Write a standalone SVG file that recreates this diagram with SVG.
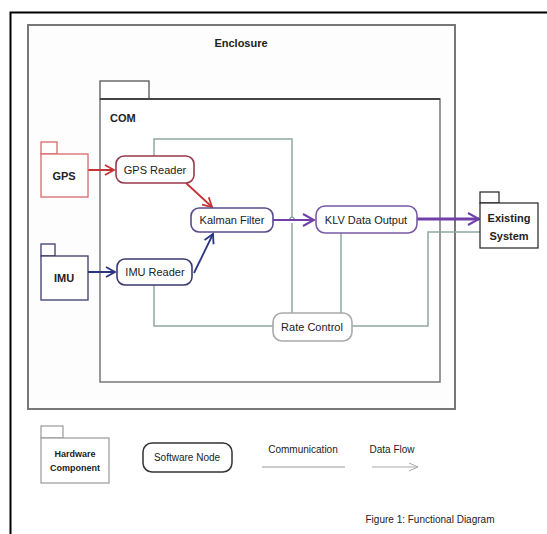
<svg xmlns="http://www.w3.org/2000/svg" width="547" height="534" viewBox="0 0 547 534">
<defs>
<style>
text{font-family:"Liberation Sans",Arial,sans-serif;font-size:11px;fill:#222;text-anchor:middle}
.b{font-weight:bold}
.sw{fill:#fff;stroke-width:1.6}
.comm{fill:none;stroke:#8fa8a0;stroke-width:1.5}
</style>
<marker id="aR" markerWidth="12" markerHeight="12" refX="10" refY="6" orient="auto" markerUnits="userSpaceOnUse"><path d="M1,1 L10,6 L1,11" fill="none" stroke="#c83232" stroke-width="1.8"/></marker>
<marker id="aB" markerWidth="12" markerHeight="12" refX="10" refY="6" orient="auto" markerUnits="userSpaceOnUse"><path d="M1,1 L10,6 L1,11" fill="none" stroke="#2a3580" stroke-width="1.8"/></marker>
<marker id="aP" markerWidth="14" markerHeight="14" refX="12" refY="7" orient="auto" markerUnits="userSpaceOnUse"><path d="M1,1 L12,7 L1,13" fill="none" stroke="#7040a8" stroke-width="2"/></marker>
<marker id="aG" markerWidth="12" markerHeight="12" refX="10" refY="6" orient="auto" markerUnits="userSpaceOnUse"><path d="M1,2 L10,6 L1,10" fill="none" stroke="#aaa" stroke-width="1"/></marker>
</defs>
<rect width="547" height="534" fill="#fff"/>
<path d="M10.5,534 V12.5 H547" fill="none" stroke="#000" stroke-width="2"/>
<g id="enclosure">
<rect x="28" y="25" width="427" height="384" fill="#fdfdfd" stroke="#777" stroke-width="2"/>
<text x="241" y="47" class="b">Enclosure</text>
</g>
<g id="com">
<rect x="100" y="81" width="49" height="18" fill="#fff" stroke="#555" stroke-width="1.3"/>
<rect x="100" y="99" width="340" height="283" fill="#fff" stroke="#777" stroke-width="1.5"/>
<line x1="100" y1="99" x2="440" y2="99" stroke="#444" stroke-width="2.2"/>
<text x="110" y="122" class="b" style="text-anchor:start">COM</text>
</g>
<g id="connectors">
<path class="comm" d="M154,156 V139 H292 V217 M292,223 V313"/>
<path d="M289,220 Q292,214 295,220" fill="none" stroke="#8fa8a0" stroke-width="1.5"/>
<path class="comm" d="M154,285 V326 H273"/>
<path class="comm" d="M341,233 V313"/>
<path class="comm" d="M352,326 H428 V232 H480"/>
<line x1="88" y1="170" x2="114" y2="170" stroke="#c83232" stroke-width="2" marker-end="url(#aR)"/>
<line x1="88" y1="272" x2="115" y2="272" stroke="#2a3580" stroke-width="2" marker-end="url(#aB)"/>
<line x1="186" y1="183" x2="212" y2="207" stroke="#c83232" stroke-width="1.8" marker-end="url(#aR)"/>
<line x1="194" y1="273" x2="213" y2="234" stroke="#2a3580" stroke-width="1.8" marker-end="url(#aB)"/>
<line x1="273" y1="220" x2="314" y2="220" stroke="#7040a8" stroke-width="2" marker-end="url(#aP)"/>
<line x1="417" y1="219" x2="479" y2="219" stroke="#7040a8" stroke-width="3.2" marker-end="url(#aP)"/>
</g>
<g id="gps">
<rect x="41" y="142" width="16" height="12" fill="#fff" stroke="#d86a6a" stroke-width="1.3"/>
<rect x="41" y="154" width="47" height="43" fill="#fff" stroke="#d86a6a" stroke-width="1.3"/>
<text x="64" y="180" class="b">GPS</text>
</g>
<g id="imu">
<rect x="41" y="244" width="14" height="12" fill="#fff" stroke="#3a3a6a" stroke-width="1.3"/>
<rect x="41" y="256" width="47" height="44" fill="#fff" stroke="#3a3a6a" stroke-width="1.3"/>
<text x="64" y="282" class="b">IMU</text>
</g>
<g id="gps-reader">
<rect x="116" y="156" width="78" height="27" rx="8" class="sw" stroke="#9a3a4a"/>
<text x="155" y="174">GPS Reader</text>
</g>
<g id="imu-reader">
<rect x="117" y="259" width="75" height="26" rx="8" class="sw" stroke="#3a3a70"/>
<text x="155" y="276">IMU Reader</text>
</g>
<g id="kalman-filter">
<rect x="191" y="208" width="82" height="24" rx="8" class="sw" stroke="#5a4a90"/>
<text x="232" y="224">Kalman Filter</text>
</g>
<g id="klv-data-output">
<rect x="316" y="206" width="101" height="27" rx="9" class="sw" stroke="#7a5aa8"/>
<text x="366" y="224">KLV Data Output</text>
</g>
<g id="rate-control">
<rect x="273" y="313" width="79" height="28" rx="9" class="sw" stroke="#aaa" stroke-width="1.3"/>
<text x="312" y="331">Rate Control</text>
</g>
<g id="existing-system">
<rect x="480" y="192" width="19" height="11" fill="#fff" stroke="#222" stroke-width="1.2"/>
<rect x="480" y="203" width="58" height="45" fill="#fff" stroke="#222" stroke-width="1.2"/>
<text x="509" y="222" class="b">Existing</text>
<text x="509" y="240" class="b">System</text>
</g>
<g id="legend">
<rect x="41" y="426" width="22" height="12" fill="#fff" stroke="#999" stroke-width="1.2"/>
<rect x="41" y="438" width="68" height="45" fill="#fff" stroke="#999" stroke-width="1.2"/>
<text x="75" y="457" class="b" style="font-size:9px">Hardware</text>
<text x="75" y="471" class="b" style="font-size:9px">Component</text>
<rect x="143" y="443" width="89" height="29" rx="9" fill="#fff" stroke="#333" stroke-width="1.5"/>
<text x="187" y="461" style="font-size:10px">Software Node</text>
<text x="303" y="453" style="font-size:10px">Communication</text>
<line x1="262" y1="467" x2="345" y2="467" stroke="#999" stroke-width="1.2"/>
<text x="392" y="453" style="font-size:10px">Data Flow</text>
<line x1="372" y1="467" x2="418" y2="467" stroke="#aaa" stroke-width="1" marker-end="url(#aG)"/>
<text x="430" y="523" style="font-size:10px">Figure 1: Functional Diagram</text>
</g>
</svg>
